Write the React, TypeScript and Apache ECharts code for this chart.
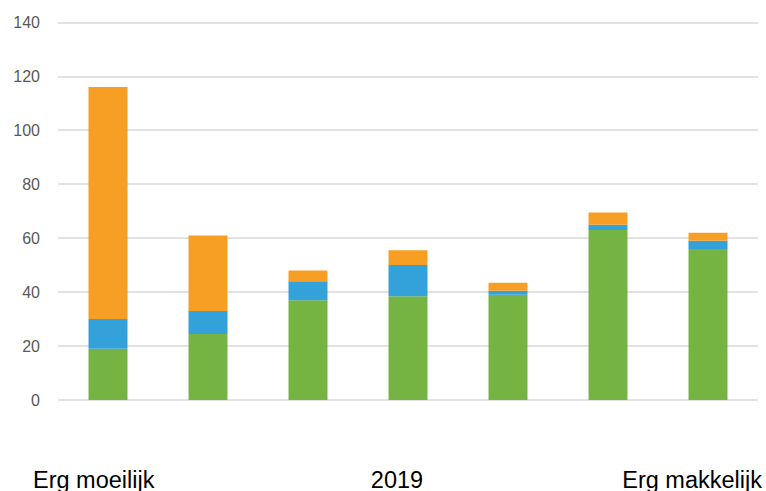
import React, { useEffect, useRef } from "react";
import * as echarts from "echarts";

const categories = ["1", "2", "3", "4", "5", "6", "7"];
const greenValues = [19, 24.5, 37, 38.5, 39, 63, 56];
const blueValues = [11, 8.5, 7, 11.5, 1.5, 2, 3];
const orangeValues = [86, 28, 4, 5.5, 3, 4.5, 3];
const yTicks = { min: 0, max: 140, interval: 20 };
const bottomLabels = ["Erg moeilijk", "2019", "Erg makkelijk"];

export default function App() {
  const ref = useRef<HTMLDivElement>(null);
  useEffect(() => {
    if (!ref.current) return;
    const chart = echarts.init(ref.current, null, { renderer: "svg" });
    const barBase = {
      type: "bar",
      stack: "total",
      barWidth: 39,
      emphasis: { disabled: true },
    };
    const textStyle = { fontSize: 23.5, fill: "#000", fontFamily: "Liberation Sans", verticalAlign: "top" };
    chart.setOption({
      animation: false,
      grid: { left: 58, right: 8, top: 22.3, bottom: 91, containLabel: false },
      xAxis: {
        type: "category",
        data: categories,
        axisLine: { show: false },
        axisTick: { show: false },
        axisLabel: { show: false },
      },
      yAxis: {
        type: "value",
        min: yTicks.min,
        max: yTicks.max,
        interval: yTicks.interval,
        axisLine: { show: false },
        axisTick: { show: false },
        axisLabel: {
          margin: 18,
          fontSize: 16,
          color: "#595959",
          fontFamily: "Liberation Sans",
        },
        splitLine: { lineStyle: { color: "#d9d9d9", width: 1.5 } },
      },
      series: [
        { ...barBase, name: "green", data: greenValues, itemStyle: { color: "#75B443" } },
        { ...barBase, name: "blue", data: blueValues, itemStyle: { color: "#33A2DB" } },
        { ...barBase, name: "orange", data: orangeValues, itemStyle: { color: "#F79F24" } },
      ],
      graphic: [
        {
          type: "text",
          x: 33,
          y: 467.5,
          style: { ...textStyle, text: bottomLabels[0], align: "left" },
        },
        {
          type: "text",
          x: 397,
          y: 467.5,
          style: { ...textStyle, text: bottomLabels[1], align: "center" },
        },
        {
          type: "text",
          x: 762,
          y: 467.5,
          style: { ...textStyle, text: bottomLabels[2], align: "right" },
        },
      ],
    });
    return () => chart.dispose();
  }, []);
  return <div ref={ref} style={{ width: 766, height: 491, position: "absolute", left: 0, top: 0 }} />;
}
